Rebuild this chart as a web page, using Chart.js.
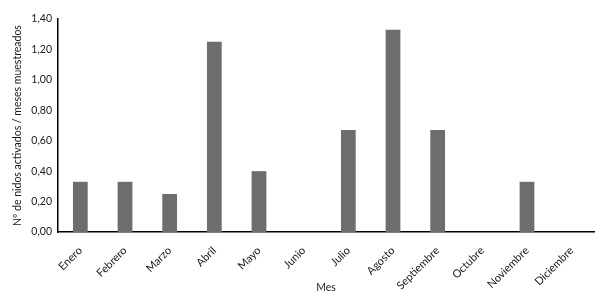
<!DOCTYPE html>
<html><head><meta charset="utf-8">
<script src="https://cdn.jsdelivr.net/npm/chart.js@4/dist/chart.umd.min.js"></script>
<style>html,body{margin:0;padding:0;background:#fff}#w{width:599px;height:300px}</style>
</head><body><div id="w"><canvas id="c"></canvas></div>
<script>
const categories = ["Enero","Febrero","Marzo","Abril","Mayo","Junio","Julio","Agosto","Septiembre","Octubre","Noviembre","Diciembre"];
const values = [0.33,0.33,0.25,1.25,0.40,0,0.67,1.33,0.67,0,0.33,0];
const yTitle = "Nº de nidos activados / meses muestreados";
const xTitle = "Mes";
const fam = "Lato, 'Noto Sans', sans-serif";
new Chart(document.getElementById('c'), {
  type: 'bar',
  data: { labels: categories, datasets: [{ data: values, backgroundColor: '#6d6d6f', barPercentage: 0.33, categoryPercentage: 1 }] },
  options: {
    responsive: true, maintainAspectRatio: false, animation: false,
    layout: { padding: { top: 19, right: 5, left: 0, bottom: 0 } },
    plugins: { legend: { display: false }, tooltip: { enabled: false } },
    scales: {
      x: {
        grid: { display: false },
        border: { color: '#000', width: 1.5 },
        ticks: { color: '#1a1a1a', font: { family: fam, size: 11 }, minRotation: 45, maxRotation: 45, padding: 4, autoSkip: false },
        title: { display: true, text: xTitle, color: '#1a1a1a', font: { family: fam, size: 10.5 }, padding: { top: 0, bottom: 6 } },
        afterFit: s => { s.height = 68; }
      },
      y: {
        min: 0, max: 1.4,
        grid: { display: false, drawTicks: false },
        border: { color: '#000', width: 1.5 },
        ticks: { stepSize: 0.2, color: '#1a1a1a', font: { family: fam, size: 10.5 }, padding: 6,
          callback: v => v.toFixed(2).replace('.', ',') },
        title: { display: true, text: yTitle, color: '#1a1a1a', font: { family: fam, size: 10.5 }, padding: { top: 11, bottom: 0 } },
        afterFit: s => { s.width = 58; }
      }
    }
  }
});
</script></body></html>
